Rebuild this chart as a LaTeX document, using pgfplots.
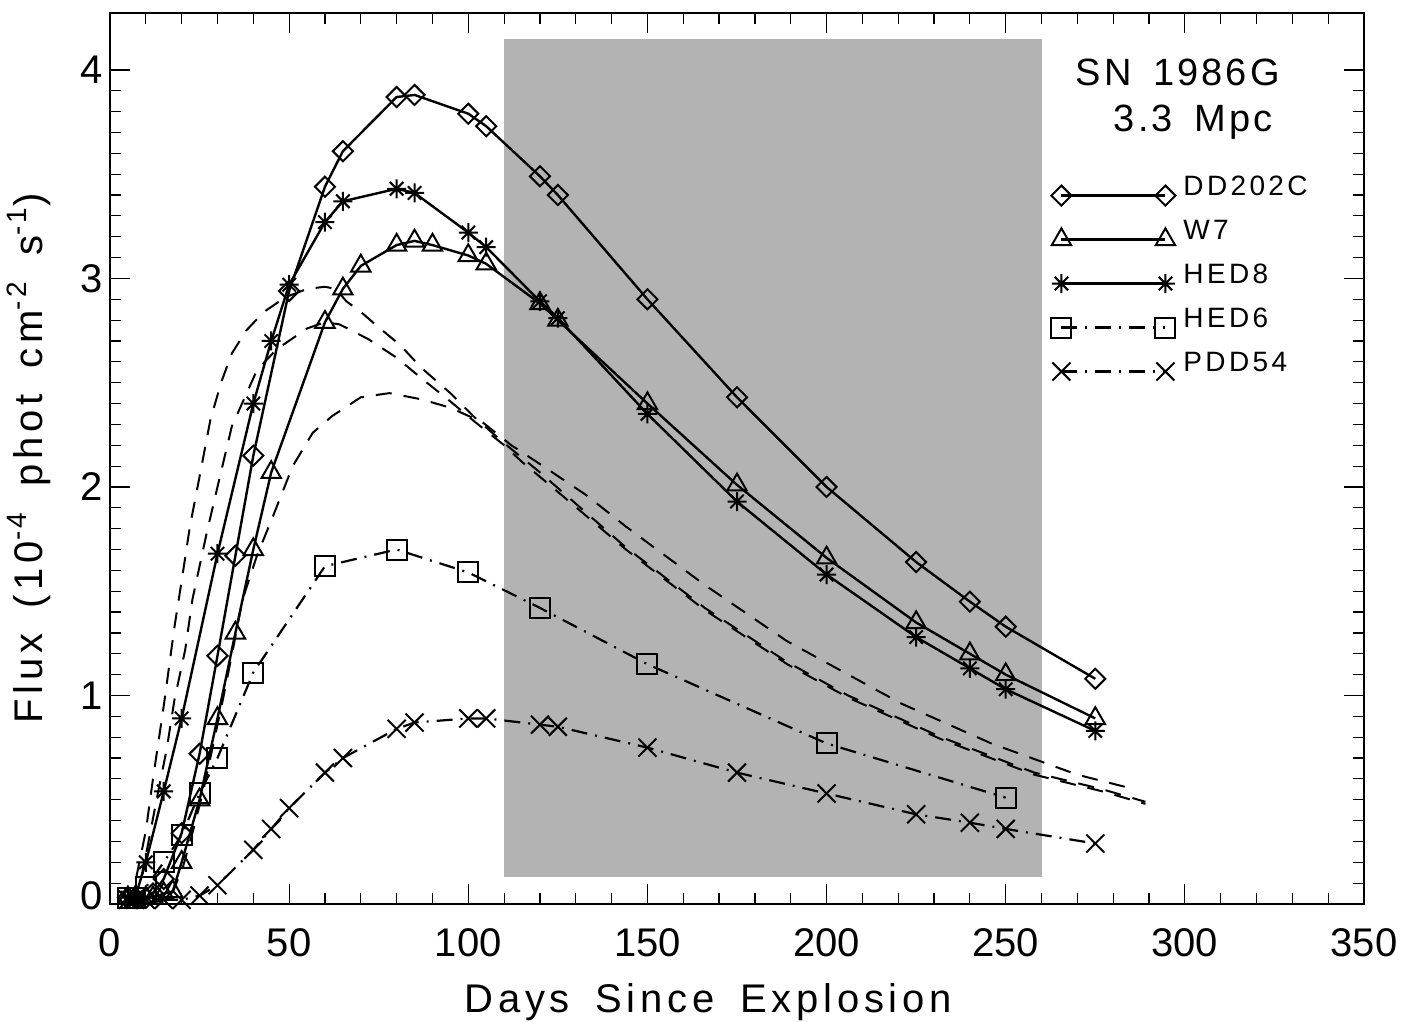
\documentclass[border=0pt]{standalone}
\usepackage{pgfplots}
\pgfplotsset{compat=1.18}
\usepackage{fontspec}
\setmainfont{Liberation Sans}
\newfontfamily\lblfont{Liberation Sans}[LetterSpace=12,WordSpace=1.6]
\newfontfamily\ttlfont{Liberation Sans}[LetterSpace=8,WordSpace=1.6]
\definecolor{shade}{RGB}{179,179,179}
\pgfdeclareplotmark{ast8}{%
  \pgfpathmoveto{\pgfqpoint{-\pgfplotmarksize}{0pt}}\pgfpathlineto{\pgfqpoint{\pgfplotmarksize}{0pt}}%
  \pgfpathmoveto{\pgfqpoint{0pt}{-\pgfplotmarksize}}\pgfpathlineto{\pgfqpoint{0pt}{\pgfplotmarksize}}%
  \pgfpathmoveto{\pgfqpoint{-.7071\pgfplotmarksize}{-.7071\pgfplotmarksize}}\pgfpathlineto{\pgfqpoint{.7071\pgfplotmarksize}{.7071\pgfplotmarksize}}%
  \pgfpathmoveto{\pgfqpoint{-.7071\pgfplotmarksize}{.7071\pgfplotmarksize}}\pgfpathlineto{\pgfqpoint{.7071\pgfplotmarksize}{-.7071\pgfplotmarksize}}%
  \pgfusepathqstroke}
\pgfdeclareplotmark{xx}{%
  \pgfpathmoveto{\pgfqpoint{-\pgfplotmarksize}{-\pgfplotmarksize}}\pgfpathlineto{\pgfqpoint{\pgfplotmarksize}{\pgfplotmarksize}}%
  \pgfpathmoveto{\pgfqpoint{-\pgfplotmarksize}{\pgfplotmarksize}}\pgfpathlineto{\pgfqpoint{\pgfplotmarksize}{-\pgfplotmarksize}}%
  \pgfusepathqstroke}
\begin{document}
\begin{tikzpicture}
\begin{axis}[
  scale only axis, width=627pt, height=445.5pt,
  xmin=0, xmax=350, ymin=0, ymax=4.273,
  xtick={0,50,...,350}, ytick={0,1,2,3,4},
  yticklabels={\raisebox{8.5pt}{0},1,2,3,4},
  minor x tick num=4, minor y tick num=9,
  tick align=inside, major tick length=10pt, minor tick length=5.5pt,
  tick style={black, line width=0.6pt},
  axis line style={line width=0.8pt},
  /pgf/number format/assume math mode=true,
  ticklabel style={font=\fontsize{20}{24}\selectfont},
  xticklabel style={yshift=-9pt},
  xlabel={Days Since Explosion},
  ylabel={Flux (10\textsuperscript{-4} phot cm\textsuperscript{-2} s\textsuperscript{-1})},
  every axis x label/.style={at={(axis description cs:0.477,0)}, anchor=base, yshift=-54.5pt, font=\lblfont\fontsize{20}{24}\selectfont},
  every axis y label/.style={at={(axis description cs:-0.0542,0.5)}, anchor=base, rotate=90, font=\lblfont\fontsize{20}{24}\selectfont},
  legend image code/.code={\draw[mark repeat=1,mark phase=1,#1] plot coordinates {(0pt,0pt) (52pt,0pt)};},
  legend style={draw=none, fill=none, at={(0.7456,0.818)}, anchor=north west,
    font=\lblfont\fontsize{14}{16}\selectfont, row sep=6pt,
    nodes={inner sep=0pt, text height=12pt, text depth=4pt},
    /tikz/every odd column/.append style={column sep=4pt}},
  legend cell align=left,
]
% shaded band
\addplot[draw=none, fill=shade, forget plot] coordinates {(110,0.13) (260,0.13) (260,4.15) (110,4.15)} -- cycle;
% zero line
\addplot[black, line width=1.3pt, forget plot] coordinates {(0,0) (289,0)};
% dashed curves
\addplot[black, line width=1pt, dash pattern=on 8pt off 6pt, forget plot] coordinates {
 (5,0) (7,0.1) (10,0.35) (12,0.6) (15,0.95) (18,1.33) (20,1.55) (22.3,1.81) (25,2.05) (28,2.32) (31,2.50) (34,2.64) (38,2.75) (43,2.84) (49,2.91) (55,2.95) (60,2.96) (63,2.95) (66,2.89) (70,2.84) (74,2.78) (81,2.68) (87,2.57) (95,2.45) (102,2.33) (110,2.21) (120,2.07) (144,1.71) (166,1.42) (189,1.16) (206,1.00) (232,0.80) (258,0.63) (277,0.55) (289,0.49)};
\addplot[black, line width=1pt, dash pattern=on 8pt off 6pt, forget plot] coordinates {
 (5,0) (8.4,0.1) (10.2,0.25) (13,0.5) (15.8,0.74) (18,0.98) (21,1.22) (23,1.46) (27,1.78) (30,2.0) (34,2.29) (41,2.56) (46.5,2.66) (55,2.76) (60,2.79) (64,2.78) (72,2.71) (80,2.62) (87,2.52) (95,2.41) (102,2.31) (110,2.20) (115,2.12) (122,2.02) (144,1.70) (166,1.41) (189,1.15) (206,0.99) (232,0.79) (258,0.62) (277,0.54) (289,0.48)};
\addplot[black, line width=1pt, dash pattern=on 8pt off 6pt, forget plot] coordinates {
 (10,0) (15,0.02) (17.6,0.06) (20.4,0.18) (23,0.34) (26,0.54) (29,0.78) (31.5,0.98) (34.3,1.22) (37,1.46) (41,1.67) (45.5,1.86) (51,2.10) (56.6,2.26) (62,2.34) (70,2.43) (78,2.45) (87,2.42) (95,2.38) (104,2.31) (112,2.20) (120,2.11) (133,1.96) (144,1.81) (166,1.53) (189,1.26) (205,1.11) (221,0.96) (246,0.77) (270,0.62) (286,0.55)};
% DD202C
\addplot[black, line width=1.2pt, mark=square, mark size=3.55pt, mark options={solid, rotate=45, line width=1pt}] coordinates {
 (5,0.03) (7,0.03) (10,0.03) (12,0.05) (15,0.12) (20,0.34) (25,0.72) (30,1.19) (35,1.67) (40,2.15) (50,2.94) (60,3.44) (65,3.61) (80,3.87) (85,3.88) (100,3.79) (105,3.73) (120,3.49) (125,3.40) (150,2.90) (175,2.43) (200,2.00) (225,1.64) (240,1.45) (250,1.33) (275,1.08)};
\addlegendentry{\raisebox{4pt}{DD202C}}
% W7
\addplot[black, line width=1.2pt, mark=triangle, mark size=5.6pt, mark options={solid, line width=1pt}] coordinates {
 (5,0.03) (7,0.03) (10,0.03) (12,0.03) (15,0.05) (17.5,0.06) (20,0.20) (25,0.50) (30,0.89) (35,1.30) (40,1.70) (45,2.07) (60,2.79) (65,2.95) (70,3.06) (80,3.16) (85,3.18) (90,3.16) (100,3.11) (105,3.07) (120,2.88) (125,2.80) (150,2.40) (175,2.01) (200,1.66) (225,1.35) (240,1.20) (250,1.10) (275,0.89)};
\addlegendentry{\raisebox{4pt}{W7}}
% HED8
\addplot[black, line width=1.2pt, mark=ast8, mark size=4.75pt, mark options={solid, line width=1pt}] coordinates {
 (5,0.03) (7,0.03) (10,0.20) (15,0.54) (20,0.89) (30,1.68) (40,2.40) (45,2.70) (50,2.97) (60,3.27) (65,3.37) (80,3.43) (85,3.41) (100,3.22) (105,3.15) (120,2.89) (125,2.81) (150,2.35) (175,1.93) (200,1.58) (225,1.28) (240,1.13) (250,1.03) (275,0.83)};
\addlegendentry{\raisebox{4pt}{HED8}}
% HED6
\addplot[black, line width=1.1pt, dash pattern=on 8pt off 4pt on 1pt off 4pt, mark=square, mark size=5pt, mark options={solid, line width=1pt}] coordinates {
 (5,0.03) (7,0.03) (10,0.08) (15,0.20) (20,0.33) (25,0.53) (30,0.70) (40,1.11) (60,1.62) (80,1.70) (100,1.59) (120,1.42) (150,1.15) (200,0.77) (250,0.51)};
\addlegendentry{\raisebox{4pt}{HED6}}
% PDD54
\addplot[black, line width=1.1pt, dash pattern=on 8pt off 4pt on 1pt off 4pt, mark=xx, mark size=4.5pt, mark options={solid, line width=1pt}] coordinates {
 (5,0.02) (7,0.02) (10,0.02) (15,0.02) (20,0.02) (25,0.04) (30,0.09) (40,0.26) (45,0.36) (50,0.46) (60,0.63) (65,0.70) (80,0.84) (85,0.87) (100,0.89) (105,0.89) (120,0.86) (125,0.85) (150,0.75) (175,0.63) (200,0.53) (225,0.43) (240,0.39) (250,0.36) (275,0.29)};
\addlegendentry{\raisebox{4pt}{PDD54}}
\node[font=\ttlfont\fontsize{19}{22}\selectfont] at (axis cs:298,3.99) {SN 1986G};
\node[font=\ttlfont\fontsize{19}{22}\selectfont] at (axis cs:302.3,3.75) {3.3 Mpc};
\coordinate (bl) at (rel axis cs:0,0);
\coordinate (tr) at (rel axis cs:1,1);
\end{axis}
\pgfresetboundingbox
\path[use as bounding box] ([shift={(-55pt,-59pt)}]bl) rectangle ([shift={(20.5pt,6.5pt)}]tr);
\end{tikzpicture}
\end{document}
